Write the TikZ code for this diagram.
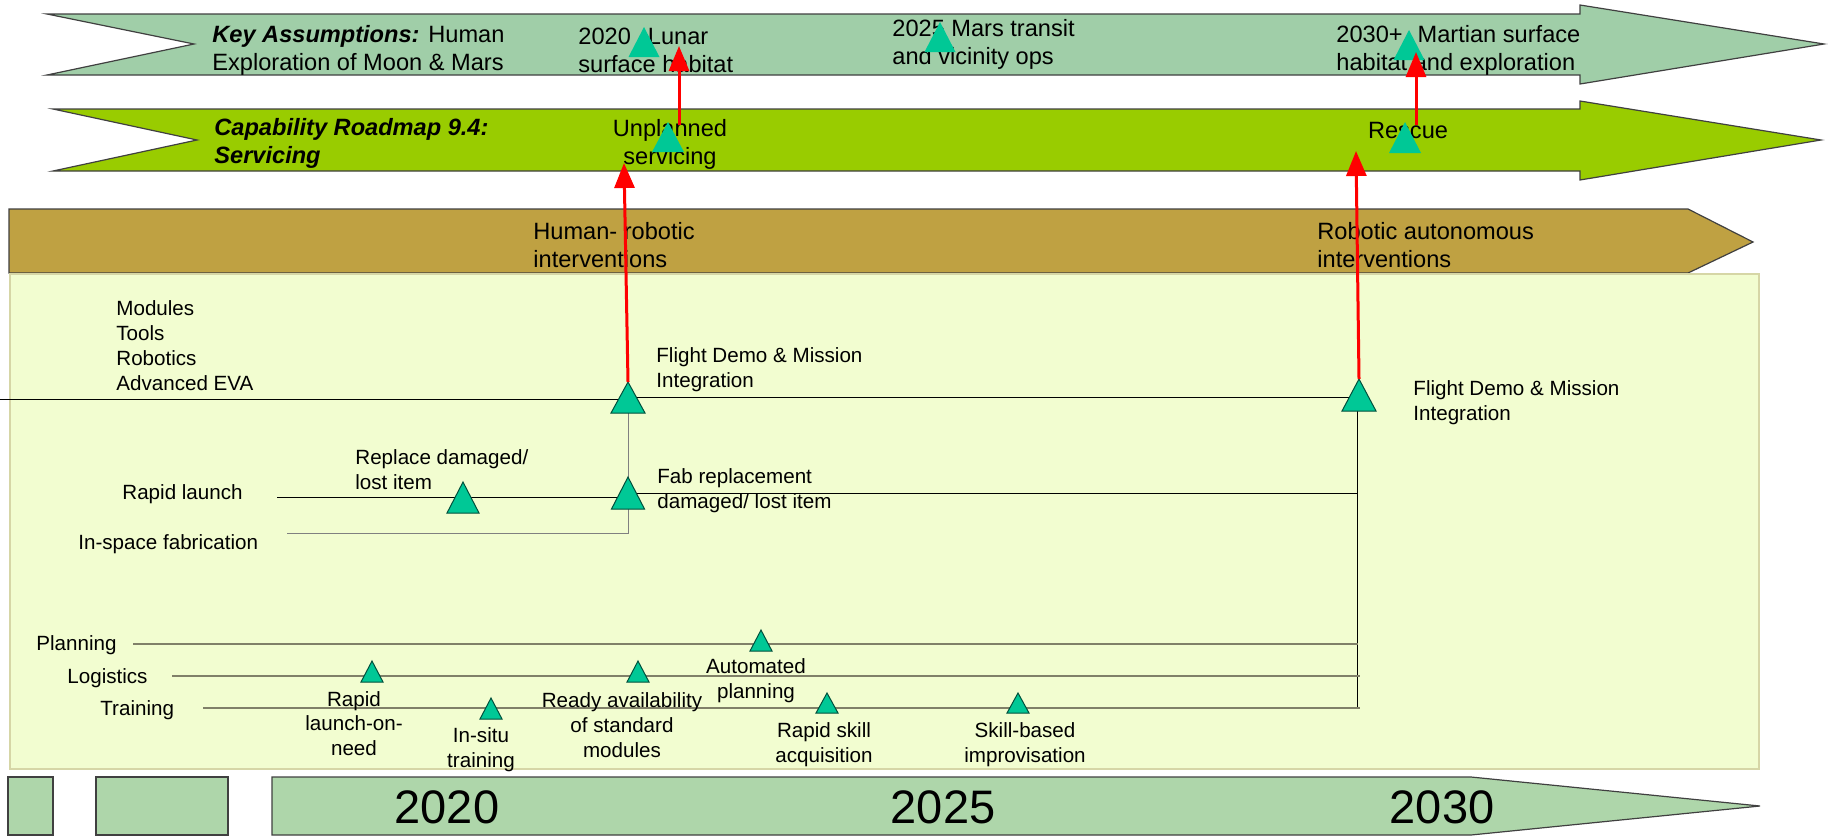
\documentclass[tikz,border=0pt]{standalone}
\usepackage{fontspec}
\setmainfont{Liberation Sans}
\usetikzlibrary{arrows.meta}
\definecolor{bandA}{RGB}{160,206,168}
\definecolor{bandB}{RGB}{153,204,0}
\definecolor{bandC}{RGB}{191,161,66}
\definecolor{panelfill}{RGB}{242,253,208}
\definecolor{panelline}{RGB}{214,214,166}
\definecolor{timebar}{RGB}{174,214,170}
\definecolor{trifill}{RGB}{0,200,150}
\definecolor{triline}{RGB}{0,80,60}
\definecolor{trackcol}{RGB}{128,128,104}
\newcommand\mstri[6]{%
  \coordinate (#1) at (#2,#3);
  \path[#6] ({#2-#4/2},{#3+#5}) -- (#1) -- ({#2+#4/2},{#3+#5}) -- cycle;}
\begin{document}
\begin{tikzpicture}[x=0.5pt,y=-0.5pt,
  bandedge/.style={draw=black!75, line width=0.6pt},
  tb/.style={font=\fontsize{11.8}{14}\selectfont, inner sep=0pt, align=left, anchor=west},
  tbc/.style={font=\fontsize{11.8}{14}\selectfont, inner sep=0pt, align=center, anchor=center},
  ptx/.style={font=\fontsize{10.3}{12.6}\selectfont, inner sep=0pt, align=left, anchor=west},
  ptc/.style={font=\fontsize{10.3}{12.4}\selectfont, inner sep=0pt, align=center, anchor=center},
  yr/.style={font=\fontsize{23.5}{28}\selectfont, inner sep=0pt, anchor=center},
  triA/.style={fill=trifill},
  triB/.style={fill=trifill, draw=triline, line width=0.5pt},
  redarrow/.style={draw=red, line width=1.5pt, -{Triangle[width=10pt,length=12.5pt]}},
  blackline/.style={draw=black, line width=0.45pt},
  grayline/.style={draw=black!50, line width=0.45pt},
  track/.style={draw=trackcol, line width=1.1pt}]
\useasboundingbox (0,0) rectangle (1835,836);

% ---- bands ----
\path[fill=bandA, bandedge] (47,14) -- (1580,14) -- (1580,5) -- (1824,44) -- (1580,84) -- (1580,75) -- (47,75) -- (194,44) -- cycle;
\path[fill=bandB, bandedge] (53,109) -- (1580,109) -- (1580,101) -- (1821,140) -- (1580,180) -- (1580,171) -- (53,171) -- (197,140) -- cycle;
\path[fill=bandC, bandedge] (9,209) -- (1688,209) -- (1753,242) -- (1688,273) -- (9,273) -- cycle;
\path[fill=panelfill, draw=panelline, line width=0.6pt] (10,274) rectangle (1759,769);

% ---- time bar ----
\path[fill=timebar, bandedge] (8,777) rectangle (53,835);
\path[fill=timebar, bandedge] (96,777) rectangle (228,835);
\path[fill=timebar, bandedge] (272,777) -- (1471,777) -- (1760,806) -- (1471,835) -- (272,835) -- cycle;
\node[yr] (y2020) at (447,807) {2020};
\node[yr] (y2025) at (943,807) {2025};
\node[yr] (y2030) at (1442,807) {2030};

% ---- band texts ----
\node[tb] (ka) at (212,50) {\textbf{\textit{Key Assumptions:}} Human\\Exploration of Moon \& Mars};
\node[tb] (lunar) at (578,50) {2020\hspace{8.5pt}Lunar\\surface habitat};
\node[tb] (mars) at (892,44.5) {2025 Mars transit\\and vicinity ops};
\node[tb] (martian) at (1336,50) {2030+\hspace{7.5pt}Martian surface\\habitat and exploration};
\node[tb] (cap) at (214,143.5) {\textbf{\textit{Capability Roadmap 9.4:}}\\\textbf{\textit{Servicing}}};
\node[tbc] (unpl) at (670,144.5) {Unplanned\\servicing};
\node[tbc] (rescue) at (1408,130.5) {Rescue};
\node[tb] (hri) at (533,245.5) {Human- robotic\\interventions};
\node[tb] (rai) at (1317,245) {Robotic autonomous\\interventions};

% ---- panel lines ----
\coordinate (fdL) at (0,399);
\coordinate (fdM) at (628,399);
\coordinate (fdM2) at (628,397);
\coordinate (fdR) at (1358,397);
\draw[blackline] (fdL) -- (fdM);
\draw[blackline] (fdM2) -- (fdR);
\coordinate (rlL) at (277,497);
\coordinate (rlM) at (628,497);
\coordinate (rlM2) at (628,493);
\coordinate (rlR) at (1358,493);
\draw[blackline] (rlL) -- (rlM);
\draw[blackline] (rlM2) -- (rlR);
\coordinate (isL) at (287,533);
\coordinate (isR) at (628,533);
\coordinate (fd1b) at (628,413);
\draw[grayline] (isL) -- (isR) -- (fd1b);
\coordinate (fd2b) at (1357,411);
\coordinate (fd2v) at (1357,708);
\draw[blackline] (fd2b) -- (fd2v);
\coordinate (plL) at (133,644);
\coordinate (plR) at (1358,644);
\coordinate (loL) at (172,676);
\coordinate (loR) at (1360,676);
\coordinate (trL) at (203,708);
\coordinate (trR) at (1360,708);
\draw[track] (plL) -- (plR);
\draw[track] (loL) -- (loR);
\draw[track] (trL) -- (trR);

% ---- panel texts ----
\node[ptx] (mods) at (116,345.5) {Modules\\Tools\\Robotics\\Advanced EVA};
\node[ptx] (fd1t) at (656,369.5) {Flight Demo \& Mission\\Integration};
\node[ptx] (fd2t) at (1413,402.5) {Flight Demo \& Mission\\Integration};
\node[ptx] (repl) at (355,470) {Replace damaged/\\lost item};
\node[ptx] (rapl) at (122,494.5) {Rapid launch};
\node[ptx] (insp) at (78,544.5) {In-space fabrication};
\node[ptx] (fabr) at (657,490.5) {Fab replacement\\damaged/ lost item};
\node[ptx] (plan) at (36,645.5) {Planning};
\node[ptx] (logi) at (67,678.5) {Logistics};
\node[ptx] (trai) at (100,710.5) {Training};
\node[ptc] (rlon) at (354,723.5) {Rapid\\launch-on-\\need};
\node[ptc] (insi) at (481,750) {In-situ\\training};
\node[ptc] (ready) at (622,725) {Ready availability\\of standard\\modules};
\node[ptc] (autop) at (756,681) {Automated\\planning};
\node[ptc] (rsa) at (824,744.5) {Rapid skill\\acquisition};
\node[ptc] (sbi) at (1025,744.5) {Skill-based\\improvisation};

% ---- triangles ----
\mstri{tLunar}{644}{27}{31}{30}{triA}
\mstri{tMars}{940}{22}{31}{30}{triA}
\mstri{tMartian}{1409}{30}{31}{30}{triA}
\mstri{tUnpl}{668}{122}{32}{30}{triA}
\mstri{tRescue}{1405}{122}{32}{31}{triA}
\mstri{tFd1}{628}{382}{34}{31}{triB}
\mstri{tFd2}{1359}{379}{34}{32}{triB}
\mstri{tRepl}{463}{482}{32}{31}{triB}
\mstri{tFab}{628}{477}{33}{32}{triB}
\mstri{tAuto}{761}{630}{22}{21}{triB}
\mstri{tRlon}{372}{661}{22}{21}{triB}
\mstri{tReady}{638}{661}{22}{21}{triB}
\mstri{tInsi}{491}{698}{22}{21}{triB}
\mstri{tRsa}{827}{693}{22}{20}{triB}
\mstri{tSbi}{1018}{693}{22}{20}{triB}

% ---- red arrows ----
\coordinate (r1e) at (624,163);
\coordinate (r2s) at (679,125);
\coordinate (r2e) at (679,46);
\coordinate (r3e) at (1356,151);
\coordinate (r4s) at (1416,125);
\coordinate (r4e) at (1416,52);
\draw[redarrow] (tFd1) -- (r1e);
\draw[redarrow] (r2s) -- (r2e);
\draw[redarrow] (tFd2) -- (r3e);
\draw[redarrow] (r4s) -- (r4e);
\end{tikzpicture}
\end{document}
